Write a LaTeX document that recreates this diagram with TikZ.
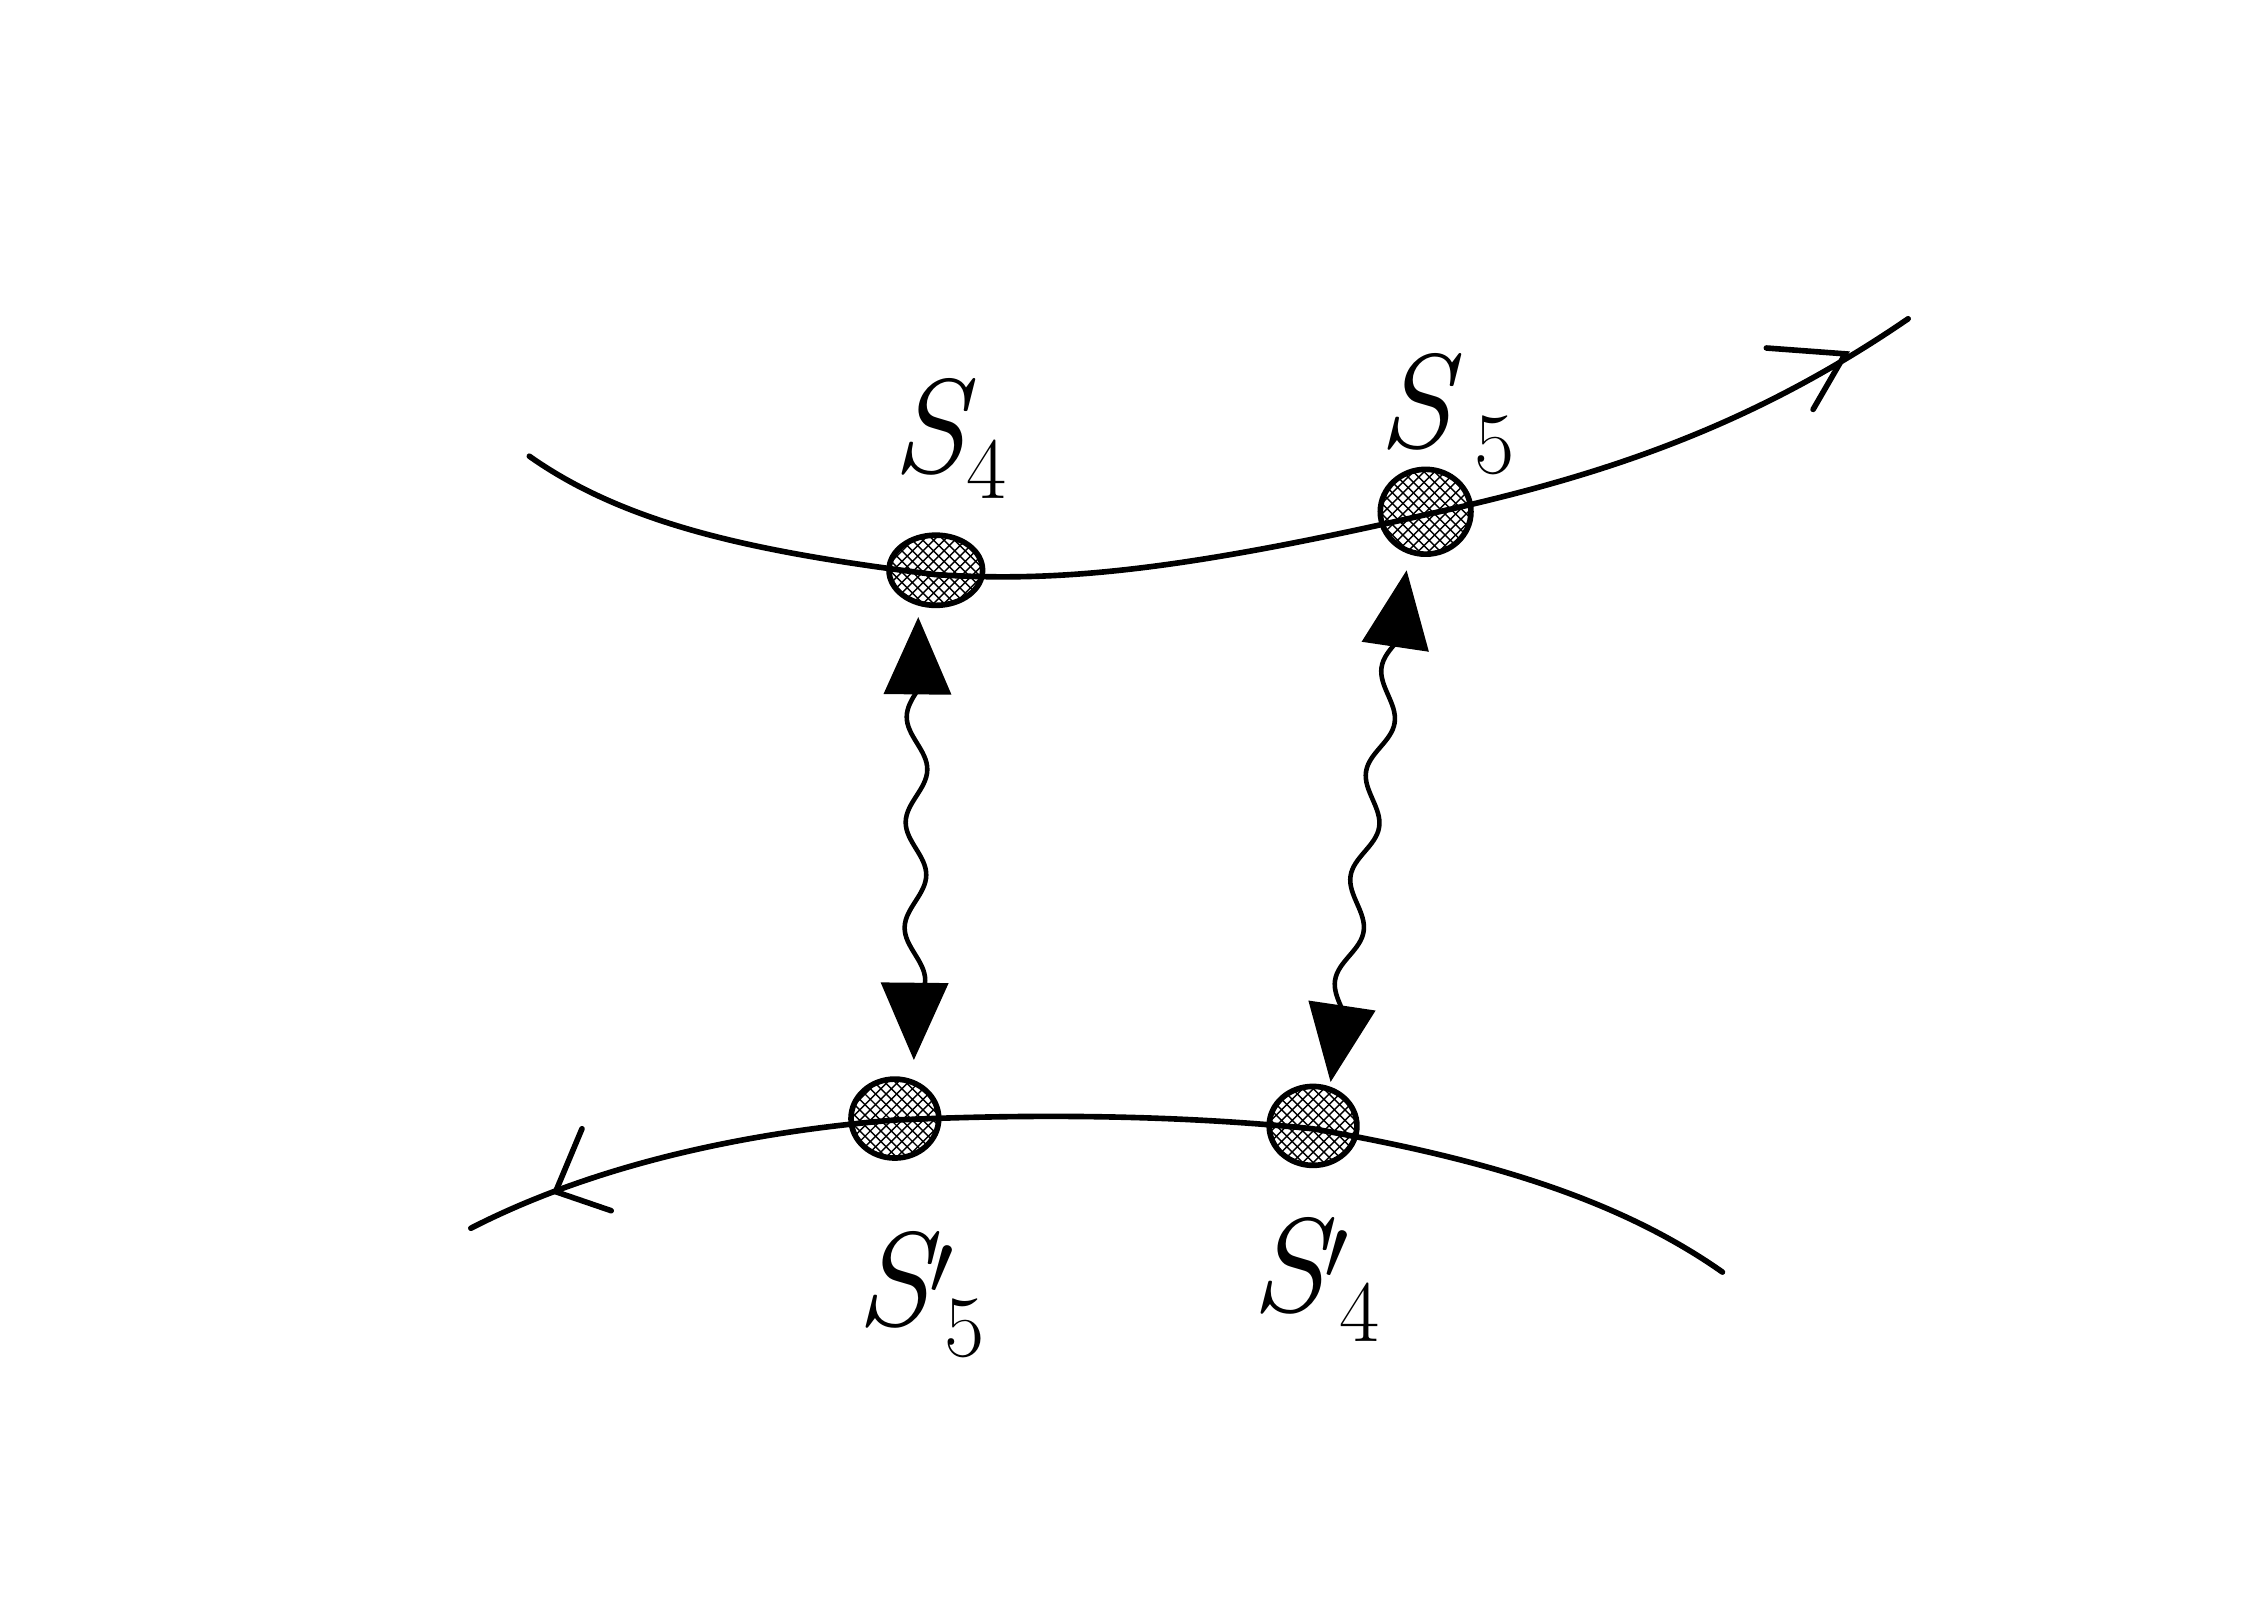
\documentclass[tikz,border=0pt]{standalone}
\usetikzlibrary{arrows.meta,decorations.pathmorphing,patterns}
\begin{document}
\begin{tikzpicture}[x=0.01462cm,y=-0.01462cm,
  line/.style={line width=1.6pt,line cap=round},
  dot/.style={draw,line width=1.6pt,pattern=crosshatch,pattern color=black},
  wave/.style={line width=1.3pt,decorate,decoration={snake,amplitude=3pt,segment length=30pt,pre length=4pt,post length=4pt},
    {Triangle[length=22pt,width=19pt]}-{Triangle[length=22pt,width=19pt]}},
  lab/.style={font=\fontsize{38}{38}\selectfont\itshape}]
\useasboundingbox (0,0) rectangle (1547,1109);
% top line
\draw[line] (362,312) .. controls (430,360) and (520,378) .. (640,393)
  .. controls (720,398) and (800,392) .. (975,352)
  .. controls (1100,325) and (1200,290) .. (1305,218);
\coordinate (tt) at (1262,242);
\draw[line] (1208,238) -- (tt) -- (1240,280);
% bottom line
\draw[line] (322,840) .. controls (400,800) and (500,775) .. (612,766)
  .. controls (700,762) and (800,762) .. (898,772)
  .. controls (1000,790) and (1100,815) .. (1178,870);
\coordinate (bt) at (380,815);
\draw[line] (398,772) -- (bt) -- (418,828);
% dots
\coordinate (s4) at (640,390);
\coordinate (s5) at (975,350);
\coordinate (s5p) at (612,765);
\coordinate (s4p) at (898,770);
\draw[dot] (s4) ellipse [x radius=32,y radius=24];
\draw[dot] (s5) ellipse [x radius=31,y radius=29];
\draw[dot] (s5p) ellipse [x radius=30,y radius=27];
\draw[dot] (s4p) ellipse [x radius=30,y radius=27];
% wavy arrows
\coordinate (a1) at (628,422);
\coordinate (b1) at (625,725);
\coordinate (a2) at (962,390);
\coordinate (b2) at (910,740);
\draw[wave] (a1) -- (b1);
\draw[wave] (a2) -- (b2);
% labels
\node[lab] (l1) at (650,300) {S$_4$};
\node[lab] (l2) at (990,283) {S\,$_5$};
\node[lab] (l3) at (630,885) {S$'_{\,5}$};
\node[lab] (l4) at (900,875) {S$'_{\,4}$};
\end{tikzpicture}
\end{document}
